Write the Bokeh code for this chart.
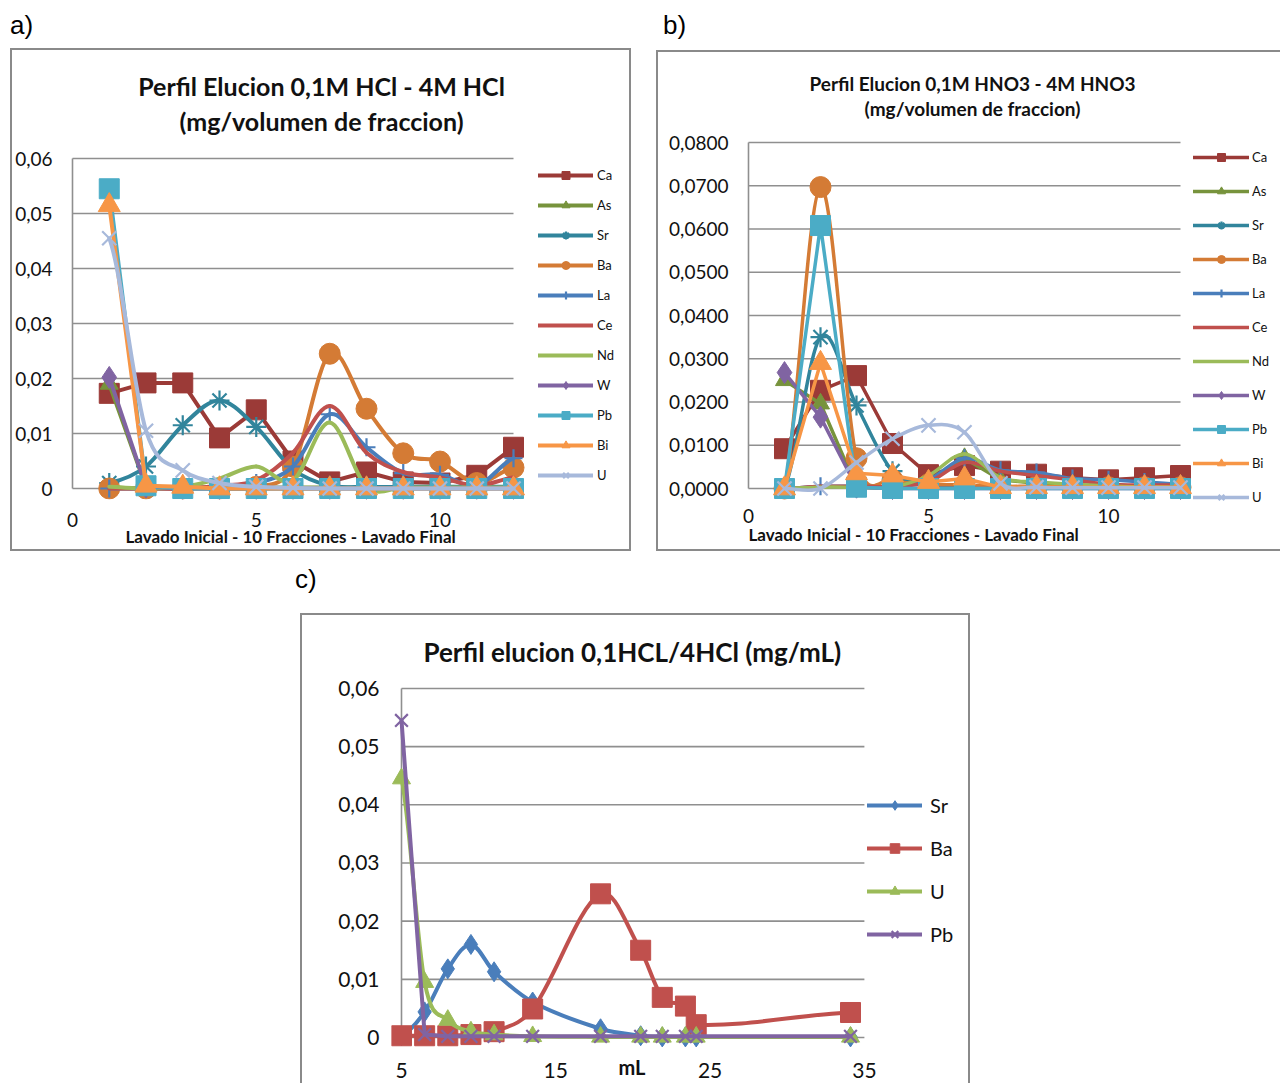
from bokeh.plotting import figure
from bokeh.models import (ColumnDataSource, Range1d, FixedTicker, Legend, LegendItem,
                          Label, Title, Div, Spacer)
from bokeh.layouts import column, row
from bokeh.embed import file_html
from bokeh.resources import INLINE

FONT = "Lato"
BOX = "2px solid #8a8a8a"
GRID = "#8f8f8f"
INK = "#111111"

# ---------------- data ----------------
fracciones = list(range(1, 13))

# a) 0,1M HCl - 4M HCl (mg / volumen de fraccion)
hcl_ca = [0.0173, 0.0192, 0.0192, 0.0092, 0.0143, 0.0050, 0.0012, 0.0030, 0.0012, 0.0010, 0.0024, 0.0075]
hcl_as = [0.0190, 0.0003, 0.0002, 0.0002, 0.0002, 0.0002, 0.0002, 0.0002, 0.0002, 0.0002, 0.0002, 0.0002]
hcl_sr = [0.0010, 0.0040, 0.0115, 0.0160, 0.0112, 0.0035, 0.0005, 0.0003, 0.0003, 0.0003, 0.0003, 0.0003]
hcl_ba = [0.0, 0.0, 0.0, 0.0, 0.0003, 0.0040, 0.0245, 0.0145, 0.0064, 0.0049, 0.0010, 0.0038]
hcl_la = [0.0, 0.0, 0.0, 0.0003, 0.0010, 0.0040, 0.0135, 0.0075, 0.0028, 0.0025, 0.0005, 0.0055]
hcl_ce = [0.0, 0.0, 0.0, 0.0005, 0.0015, 0.0065, 0.0150, 0.0065, 0.0030, 0.0020, 0.0005, 0.0020]
hcl_nd = [0.0003, 0.0, 0.0003, 0.0018, 0.0040, 0.0015, 0.0120, 0.0003, 0.0002, 0.0002, 0.0002, 0.0002]
hcl_w = [0.0202, 0.0003, 0.0, 0.0, 0.0, 0.0, 0.0, 0.0, 0.0, 0.0, 0.0, 0.0]
hcl_pb = [0.0545, 0.0005, 0.0, 0.0, 0.0, 0.0, 0.0, 0.0, 0.0, 0.0, 0.0, 0.0]
hcl_bi = [0.0515, 0.0005, 0.0003, 0.0, 0.0, 0.0, 0.0, 0.0, 0.0, 0.0, 0.0, 0.0]
hcl_u = [0.0455, 0.0105, 0.0033, 0.0010, 0.0003, 0.0001, 0.0, 0.0, 0.0, 0.0, 0.0, 0.0]

# b) 0,1M HNO3 - 4M HNO3 (mg / volumen de fraccion)
hno3_ca = [0.0092, 0.0227, 0.0261, 0.0104, 0.0032, 0.0053, 0.0040, 0.0033, 0.0025, 0.0020, 0.0025, 0.0030]
hno3_as = [0.0250, 0.0196, 0.0003, 0.0002, 0.0015, 0.0070, 0.0020, 0.0012, 0.0008, 0.0005, 0.0003, 0.0003]
hno3_sr = [0.0, 0.0350, 0.0192, 0.0040, 0.0010, 0.0005, 0.0003, 0.0003, 0.0002, 0.0002, 0.0002, 0.0002]
hno3_ba = [0.0, 0.0697, 0.0070, 0.0020, 0.0010, 0.0008, 0.0005, 0.0005, 0.0003, 0.0003, 0.0003, 0.0003]
hno3_la = [0.0, 0.0005, 0.0005, 0.0005, 0.0020, 0.0070, 0.0042, 0.0037, 0.0023, 0.0020, 0.0015, 0.0010]
hno3_ce = [0.0, 0.0005, 0.0005, 0.0005, 0.0015, 0.0060, 0.0040, 0.0030, 0.0020, 0.0010, 0.0008, 0.0008]
hno3_nd = [0.0, 0.0003, 0.0003, 0.0003, 0.0030, 0.0080, 0.0025, 0.0015, 0.0010, 0.0006, 0.0004, 0.0003]
hno3_w = [0.0268, 0.0165, 0.0003, 0.0, 0.0, 0.0, 0.0, 0.0, 0.0, 0.0, 0.0, 0.0]
hno3_pb = [0.0, 0.0608, 0.0003, 0.0, 0.0, 0.0, 0.0, 0.0, 0.0, 0.0, 0.0, 0.0]
hno3_bi = [0.0, 0.0290, 0.0035, 0.0030, 0.0015, 0.0023, 0.0003, 0.0003, 0.0003, 0.0003, 0.0003, 0.0003]
hno3_u = [0.0, 0.0, 0.0060, 0.0115, 0.0146, 0.0130, 0.0012, 0.0003, 0.0002, 0.0002, 0.0002, 0.0002]

# c) 0,1HCL/4HCl (mg/mL) against eluted volume
volumen_ml = [5, 6.5, 8, 9.5, 11, 13.5, 17.9, 20.5, 21.9, 23.4, 24.1, 34.1]
ml_sr = [0.0003, 0.0044, 0.0118, 0.0160, 0.0113, 0.0061, 0.0015, 0.0003, 0.0001, 0.0001, 0.0001, 0.0001]
ml_ba = [0.0003, 0.0003, 0.0003, 0.0005, 0.0010, 0.0049, 0.0247, 0.0150, 0.0069, 0.0054, 0.0022, 0.0043]
ml_u = [0.0445, 0.0095, 0.0030, 0.0010, 0.0005, 0.0002, 0.0001, 0.0001, 0.0001, 0.0001, 0.0001, 0.0001]
ml_pb = [0.0545, 0.0005, 0.0002, 0.0002, 0.0002, 0.0002, 0.0002, 0.0002, 0.0002, 0.0002, 0.0002, 0.0002]

# axis ticks and labels
ticks_frac = [0, 5, 10]
ticks_frac_labels = ["0", "5", "10"]
ticks_006 = [0, 0.01, 0.02, 0.03, 0.04, 0.05, 0.06]
ticks_006_labels = ["0", "0,01", "0,02", "0,03", "0,04", "0,05", "0,06"]
ticks_008 = [0, 0.01, 0.02, 0.03, 0.04, 0.05, 0.06, 0.07, 0.08]
ticks_008_labels = ["0,0000", "0,0100", "0,0200", "0,0300", "0,0400", "0,0500",
                    "0,0600", "0,0700", "0,0800"]
ticks_ml = [5, 15, 25, 35]
ticks_ml_labels = ["5", "15", "25", "35"]

# ---------------- styles ----------------
# name -> (color, marker, size, smoothed line)
STYLE_AB = {
    "Ca": ("#9b3a37", "square", 20, False),
    "As": ("#77933c", "triangle", 18, False),
    "Sr": ("#31859c", "asterisk", 20, True),
    "Ba": ("#d47b35", "circle", 21, True),
    "La": ("#4a7ebb", "cross", 18, True),
    "Ce": ("#c0504d", None, 0, True),
    "Nd": ("#9bbb59", None, 0, True),
    "W": ("#8064a2", "diamond", 22, False),
    "Pb": ("#4bacc6", "square", 20, False),
    "Bi": ("#f79646", "triangle", 22, False),
    "U": ("#a7b9db", "x", 20, True),
}
STYLE_C = {
    "Sr": ("#4a7ebb", "diamond", 20, True),
    "Ba": ("#c0504d", "square", 20, True),
    "U": ("#9bbb59", "triangle", 18, True),
    "Pb": ("#8064a2", "x", 18, False),
}

# ---------------- geometry (canvas pixels) ----------------
# ow/oh: figure size (the CSS border is drawn over its outer 2 px);
# fl/fr/ft/fb: frame edges; x0 is the pixel of value xv0, y0 the pixel of value 0;
# xs/ys: pixels per data unit.
GEO_A = dict(ow=621, oh=503, fl=45, fr=621, ft=0, fb=449,
             x0=60, xv0=0, xs=36.75, y0=438, ys=5500)
GEO_B = dict(ow=624, oh=501, fl=86, fr=624, ft=0, fb=452,
             x0=90, xv0=0, xs=36.0, y0=436, ys=4325)
GEO_C = dict(ow=670, oh=470, fl=89, fr=670, ft=0, fb=433,
             x0=99, xv0=5, xs=15.43, y0=422, ys=5817)


def px_x(g, cx):
    return g["xv0"] + (cx - g["x0"]) / g["xs"]


def px_y(g, cy):
    return (g["y0"] - cy) / g["ys"]


def bezier_segments(xs, ys):
    """Cubic Hermite (Excel-like smoothed line) as bezier control points."""
    n = len(xs)
    slopes = []
    for i in range(n):
        if i == 0:
            s = (ys[1] - ys[0]) / (xs[1] - xs[0]) / 2
        elif i == n - 1:
            s = (ys[-1] - ys[-2]) / (xs[-1] - xs[-2]) / 2
        else:
            s = (ys[i + 1] - ys[i - 1]) / (xs[i + 1] - xs[i - 1])
        slopes.append(s)
    d = dict(x0=[], y0=[], x1=[], y1=[], cx0=[], cy0=[], cx1=[], cy1=[])
    for i in range(n - 1):
        dx = xs[i + 1] - xs[i]
        d["x0"].append(xs[i]); d["y0"].append(ys[i])
        d["x1"].append(xs[i + 1]); d["y1"].append(ys[i + 1])
        d["cx0"].append(xs[i] + dx / 3); d["cy0"].append(ys[i] + slopes[i] * dx / 3)
        d["cx1"].append(xs[i + 1] - dx / 3); d["cy1"].append(ys[i + 1] - slopes[i + 1] * dx / 3)
    return d


def add_series(p, xs, ys, style, lw):
    color, marker, size, smooth = style
    rs = []
    if smooth:
        src = ColumnDataSource(bezier_segments(xs, ys))
        rs.append(p.bezier(x0="x0", y0="y0", x1="x1", y1="y1", cx0="cx0", cy0="cy0",
                           cx1="cx1", cy1="cy1", source=src, line_color=color,
                           line_width=lw, line_cap="round"))
    else:
        rs.append(p.line(xs, ys, line_color=color, line_width=lw,
                         line_join="round", line_cap="round"))
    if marker is not None:
        if marker in ("x", "asterisk", "cross"):
            rs.append(p.scatter(xs, ys, marker=marker, size=size, line_color=color,
                                line_width=2.2))
        else:
            rs.append(p.scatter(xs, ys, marker=marker, size=size, fill_color=color,
                                line_color=color))
    return rs


def base_figure(g, xticks, xlabels, yticks, ylabels, tick_size, x_standoff, y_standoff,
                grid_x):
    xr = (px_x(g, g["fl"]), px_x(g, g["fr"]))
    yr = (px_y(g, g["fb"]), px_y(g, g["ft"]))
    p = figure(width=g["ow"], height=g["oh"], x_range=Range1d(*xr), y_range=Range1d(*yr),
               output_backend="svg", toolbar_location=None, title=None,
               min_border_left=g["fl"], min_border_right=g["ow"] - g["fr"],
               min_border_top=g["ft"], min_border_bottom=g["oh"] - g["fb"], margin=0)
    p.outline_line_color = None
    p.grid.visible = False
    p.background_fill_color = "white"
    p.border_fill_color = "white"
    # horizontal gridlines at every value tick, across the plotted span
    p.segment(x0=[grid_x[0]] * len(yticks), x1=[grid_x[1]] * len(yticks),
              y0=yticks, y1=yticks, line_color=GRID, line_width=1.6)
    # value axis line at the start of the category span
    p.segment(x0=[grid_x[0]], x1=[grid_x[0]], y0=[yticks[0]], y1=[yticks[-1]],
              line_color=GRID, line_width=1.6)
    xa = p.xaxis[0]
    xa.ticker = FixedTicker(ticks=xticks)
    xa.major_label_overrides = dict(zip(xticks, xlabels))
    xa.axis_line_color = None
    xa.major_tick_line_color = None
    xa.minor_tick_line_color = None
    xa.major_tick_out = 0
    xa.major_tick_in = 0
    xa.major_label_standoff = x_standoff
    xa.major_label_text_font = FONT
    xa.major_label_text_font_size = tick_size
    xa.major_label_text_color = INK
    ya = p.yaxis[0]
    ya.ticker = FixedTicker(ticks=yticks)
    ya.major_label_overrides = dict(zip(yticks, ylabels))
    ya.axis_line_color = None
    ya.major_tick_line_color = None
    ya.minor_tick_line_color = None
    ya.major_tick_out = 0
    ya.major_tick_in = 0
    ya.major_label_standoff = y_standoff
    ya.major_label_text_font = FONT
    ya.major_label_text_font_size = tick_size
    ya.major_label_text_color = INK
    return p


def title_line(p, g, cx, cy, text, size):
    p.add_layout(Label(x=px_x(g, cx), y=px_y(g, cy), text=text, text_font=FONT,
                       text_font_size=size, text_font_style="bold", text_color=INK,
                       text_align="center", text_baseline="middle"))


def axis_title(p, g, left_px, text, size, standoff):
    p.add_layout(Title(text=text, align="left", offset=left_px - g["fl"], standoff=standoff,
                       vertical_align="middle", text_font=FONT, text_font_size=size,
                       text_font_style="bold", text_color=INK), "below")


def legend_for(p, g, items, glyph_left_px, bottom_px, gh, sp, gw, font_size, standoff):
    lg = Legend(items=items, location=(glyph_left_px - g["fl"], g["fb"] - bottom_px),
                orientation="vertical", border_line_color=None, background_fill_alpha=0,
                padding=0, margin=0, spacing=sp, glyph_height=gh, label_height=gh,
                glyph_width=gw, label_standoff=standoff, label_text_font=FONT,
                label_text_font_size=font_size, label_text_color=INK)
    p.add_layout(lg)


# ---------------- a) ----------------
pa = base_figure(GEO_A, ticks_frac, ticks_frac_labels, ticks_006, ticks_006_labels,
                 "19px", 13, 5, (ticks_frac[0], fracciones[-1]))
series_a = [("Ca", hcl_ca), ("As", hcl_as), ("Sr", hcl_sr), ("Ba", hcl_ba), ("La", hcl_la),
            ("Ce", hcl_ce), ("Nd", hcl_nd), ("W", hcl_w), ("Pb", hcl_pb), ("Bi", hcl_bi),
            ("U", hcl_u)]
items_a = [LegendItem(label=n, renderers=add_series(pa, fracciones, v, STYLE_AB[n], 4))
           for n, v in series_a]
legend_for(pa, GEO_A, items_a, 526, 435, 20, 10, 55, "13px", 4)
title_line(pa, GEO_A, 309, 35, "Perfil Elucion 0,1M HCl - 4M HCl", "25px")
title_line(pa, GEO_A, 309, 70, "(mg/volumen de fraccion)", "25px")
axis_title(pa, GEO_A, 113, "Lavado Inicial - 10 Fracciones - Lavado Final", "17px", -10)
pa.styles = {"border": BOX}

# ---------------- b) ----------------
pb = base_figure(GEO_B, ticks_frac, ticks_frac_labels, ticks_008, ticks_008_labels,
                 "19px", 4, 16, (ticks_frac[0], fracciones[-1]))
series_b = [("Ca", hno3_ca), ("As", hno3_as), ("Sr", hno3_sr), ("Ba", hno3_ba),
            ("La", hno3_la), ("Ce", hno3_ce), ("Nd", hno3_nd), ("W", hno3_w),
            ("Pb", hno3_pb), ("Bi", hno3_bi), ("U", hno3_u)]
items_b = [LegendItem(label=n, renderers=add_series(pb, fracciones, v, STYLE_AB[n], 3.5))
           for n, v in series_b]
legend_for(pb, GEO_B, items_b, 535, 455, 20, 14, 56, "13px", 3)
title_line(pb, GEO_B, 314, 31, "Perfil Elucion 0,1M HNO3 - 4M HNO3", "19px")
title_line(pb, GEO_B, 314, 56, "(mg/volumen de fraccion)", "19px")
axis_title(pb, GEO_B, 90, "Lavado Inicial - 10 Fracciones - Lavado Final", "17px", -5)
pb.styles = {"border-left": BOX, "border-top": BOX, "border-bottom": BOX}

# ---------------- c) ----------------
pc = base_figure(GEO_C, ticks_ml, ticks_ml_labels, ticks_006, ticks_006_labels,
                 "21px", 14, 12, (ticks_ml[0], ticks_ml[-1]))
series_c = [("Sr", ml_sr), ("Ba", ml_ba), ("U", ml_u), ("Pb", ml_pb)]
items_c = [LegendItem(label=n, renderers=add_series(pc, volumen_ml, v, STYLE_C[n], 4))
           for n, v in series_c]
legend_for(pc, GEO_C, items_c, 565, 331, 24, 19, 55, "20px", 8)
title_line(pc, GEO_C, 333, 36, "Perfil  elucion 0,1HCL/4HCl (mg/mL)", "26px")
# unit label sits on the tick-label row; trailing wide spaces keep it left of the frame centre
pc.xaxis.axis_label = "mL" + "\u2003" * 6 + "\u2002"
pc.xaxis.axis_label_standoff = -26
pc.xaxis.axis_label_text_font = FONT
pc.xaxis.axis_label_text_font_size = "20px"
pc.xaxis.axis_label_text_font_style = "bold"
pc.xaxis.axis_label_text_color = INK
pc.styles = {"border-left": BOX, "border-top": BOX, "border-right": BOX}


def panel_tag(text, w, h, left, top):
    return Div(text=f'<div style="font-family:\'Liberation Sans\';font-size:26px;'
                    f'line-height:30px;position:relative;left:{left}px;top:{top}px;">{text}</div>',
               width=w, height=h, margin=0)


layout = column(
    row(panel_tag("a)", 656, 48, 10, 10), panel_tag("b)", 624, 48, 7, 10), margin=0),
    row(Spacer(width=10, height=503, margin=0), pa, Spacer(width=25, height=503, margin=0),
        column(Spacer(width=624, height=2, margin=0), pb, margin=0), margin=0),
    row(panel_tag("c)", 670, 62, 295, 13), margin=0),
    row(Spacer(width=300, height=470, margin=0), pc, margin=0),
    margin=0,
)

open("out.html", "w").write(file_html(layout, INLINE))
